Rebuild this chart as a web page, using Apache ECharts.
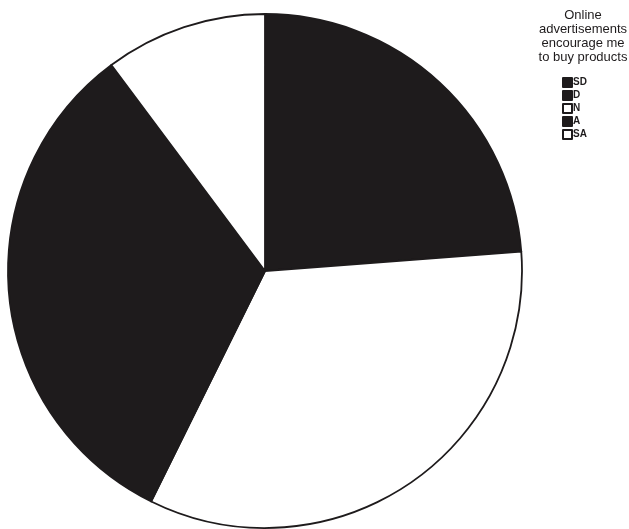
<!DOCTYPE html>
<html>
<head>
<meta charset="utf-8">
<script src="https://cdn.jsdelivr.net/npm/echarts@6/dist/echarts.min.js"></script>
<style>
  html, body { margin: 0; padding: 0; background: #fff; }
  #chart { width: 629px; height: 529px; }
</style>
</head>
<body>
<div id="chart"></div>
<script>
// Response categories (Likert scale) and their shares of respondents (%)
const categories = ['SD', 'D', 'N', 'A', 'SA'];
const shares = [23.8, 0, 33.5, 32.5, 10.2];
const sliceColors = ['#1e1b1c', '#1e1b1c', '#ffffff', '#1e1b1c', '#ffffff'];
const legendTitle = 'Online\nadvertisements\nencourage me\nto buy products';

const chart = echarts.init(document.getElementById('chart'), null, { renderer: 'canvas' });

chart.setOption({
  backgroundColor: '#ffffff',
  animation: false,
  title: {
    text: legendTitle,
    left: 578,
    top: 4,
    textAlign: 'center',
    textStyle: {
      fontFamily: 'Liberation Sans, Arial, sans-serif',
      fontSize: 13,
      fontWeight: 'normal',
      color: '#1e1b1c',
      lineHeight: 13.7
    }
  },
  legend: {
    orient: 'vertical',
    left: 562,
    top: 77,
    padding: 0,
    itemWidth: 9,
    itemHeight: 9,
    itemGap: 2,
    icon: 'rect',
    data: categories,
    textStyle: {
      fontFamily: 'Liberation Sans, Arial, sans-serif',
      fontSize: 10,
      fontWeight: 'bold',
      color: '#1e1b1c',
      padding: [0, 0, 0, -4]
    }
  },
  series: [{
    type: 'pie',
    center: [265, 271],
    radius: 257,
    startAngle: 90,
    clockwise: true,
    avoidLabelOverlap: false,
    label: { show: false },
    labelLine: { show: false },
    emphasis: { disabled: true },
    itemStyle: { borderColor: '#1e1b1c', borderWidth: 1.8 },
    data: categories.map((name, i) => ({
      name: name,
      value: shares[i],
      itemStyle: { color: sliceColors[i] }
    }))
  }]
});
</script>
</body>
</html>
